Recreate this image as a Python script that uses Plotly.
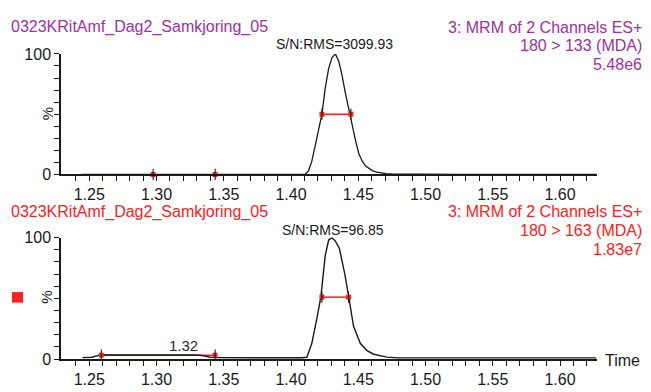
import plotly.graph_objects as go

# ---------------- data ----------------
top_t = [1.245, 1.30, 1.35, 1.40, 1.4105, 1.413, 1.4155, 1.418, 1.4205, 1.423, 1.4255,
         1.428, 1.4305, 1.433, 1.4355, 1.438, 1.4405, 1.443, 1.4455, 1.448, 1.4505,
         1.453, 1.4555, 1.458, 1.4605, 1.463, 1.4655, 1.468, 1.4705, 1.475, 1.48,
         1.49, 1.50, 1.51, 1.52, 1.55, 1.60, 1.627]
top_v = [0, 0, 0, 0, 0, 3, 11, 24, 38, 50, 72, 88, 97, 100, 94, 82, 67, 53, 40, 28, 17,
         11, 7, 4.8, 3.2, 2.2, 1.5, 1.0, 0.7, 0.5, 0.4, 0.4, 0.3, 0.3, 0.1, 0, 0, 0]

bot_t = [1.245, 1.252, 1.258, 1.27, 1.29, 1.31, 1.32, 1.33, 1.336, 1.340, 1.345, 1.37,
         1.40, 1.408, 1.4118, 1.4155, 1.4193, 1.4222, 1.4254, 1.428, 1.4304, 1.433,
         1.436, 1.440, 1.4428, 1.4465, 1.4515, 1.4565, 1.4615, 1.4665, 1.4713, 1.48,
         1.50, 1.53, 1.55, 1.57, 1.575, 1.58, 1.60, 1.61, 1.627]
bot_v = [1.2, 1.5, 3.4, 3.4, 3.5, 3.6, 3.7, 3.5, 2.5, 1.5, 1.2, 1.0, 1.0, 1.1, 1.5, 13,
         34, 51, 85, 98, 100, 97, 91, 70, 52, 27, 13, 7, 4, 2.5, 1.6, 1.0, 1.0, 0.9,
         0.8, 0.8, 1.3, 0.8, 0.8, 1.0, 1.0]

top_halfwidth_t = [1.423, 1.4445]
top_halfwidth_v = [50, 50]
top_limits_t = [1.2975, 1.3436]
top_limits_v = [0, 0]

bot_halfwidth_t = [1.423, 1.4428]
bot_halfwidth_v = [51, 51]
bot_small_t = [1.259, 1.3436]
bot_small_v = [3.2, 3.2]

small_peak_rt = 1.3198
small_peak_label = "1.32"

x_ticks = [round(1.24 + 0.01 * i, 2) for i in range(39)]
x_labels = [f"{v:.2f}" if abs(round(v * 100) % 5) == 0 else "" for v in x_ticks]
y_ticks = [0, 10, 20, 30, 40, 50, 60, 70, 80, 90, 100]
y_labels = ["0", "", "", "", "", "", "", "", "", "", "100"]

top_title = "0323KRitAmf_Dag2_Samkjoring_05"
top_info = ["3: MRM of 2 Channels ES+", "180 > 133 (MDA)", "5.48e6"]
top_sn = "S/N:RMS=3099.93"
bot_title = "0323KRitAmf_Dag2_Samkjoring_05"
bot_info = ["3: MRM of 2 Channels ES+", "180 > 163 (MDA)", "1.83e7"]
bot_sn = "S/N:RMS=96.85"

# ---------------- styles ----------------
W, H = 651, 392
PURPLE = "#A030A0"
RED = "#FF2020"
INK = "#1a1a1a"
FONT = "Liberation Sans, Arial, sans-serif"

def px(x):
    return x / W

def py(y):
    return 1 - y / H

x_dom = [px(61), px(597)]
top_dom = [py(174), py(48)]
bot_dom = [py(367), py(240)]
x_range = [1.229, 1.6275]

fig = go.Figure()

def add_markers(xa, ya, tt, vv):
    fig.add_trace(go.Scatter(x=tt, y=vv, xaxis=xa, yaxis=ya, mode="markers",
                             marker=dict(symbol="square", color=RED, size=5),
                             cliponaxis=False, showlegend=False, hoverinfo="skip"))
    fig.add_trace(go.Scatter(x=tt, y=vv, xaxis=xa, yaxis=ya, mode="markers",
                             marker=dict(symbol="line-ns", size=8,
                                         line=dict(color=INK, width=1.1)),
                             cliponaxis=False, showlegend=False, hoverinfo="skip"))

# top panel
fig.add_trace(go.Scatter(x=top_t, y=top_v, xaxis="x", yaxis="y", mode="lines",
                         line=dict(color=INK, width=1.3), showlegend=False))
fig.add_trace(go.Scatter(x=top_halfwidth_t, y=top_halfwidth_v, xaxis="x", yaxis="y",
                         mode="lines", line=dict(color=RED, width=1.5),
                         showlegend=False, hoverinfo="skip"))
add_markers("x", "y", top_halfwidth_t, top_halfwidth_v)
add_markers("x", "y", top_limits_t, top_limits_v)

# bottom panel
fig.add_trace(go.Scatter(x=bot_small_t, y=bot_small_v, xaxis="x2", yaxis="y2",
                         mode="lines", line=dict(color=RED, width=1.5),
                         showlegend=False, hoverinfo="skip"))
fig.add_trace(go.Scatter(x=bot_t, y=bot_v, xaxis="x2", yaxis="y2", mode="lines",
                         line=dict(color=INK, width=1.4), showlegend=False))
fig.add_trace(go.Scatter(x=bot_halfwidth_t, y=bot_halfwidth_v, xaxis="x2", yaxis="y2",
                         mode="lines", line=dict(color=RED, width=1.5),
                         showlegend=False, hoverinfo="skip"))
add_markers("x2", "y2", bot_halfwidth_t, bot_halfwidth_v)
add_markers("x2", "y2", bot_small_t, bot_small_v)

axis_common = dict(showline=True, linecolor=INK, linewidth=1.5, ticks="outside",
                   ticklen=5, tickwidth=1.2, tickcolor=INK, showgrid=False,
                   zeroline=False, tickfont=dict(family=FONT, size=16, color=INK))

fig.update_layout(
    width=W, height=H,
    margin=dict(l=0, r=0, t=0, b=0),
    paper_bgcolor="white", plot_bgcolor="white",
    showlegend=False,
    xaxis=dict(domain=x_dom, range=x_range, anchor="y", tickmode="array",
               tickvals=x_ticks, ticktext=x_labels, **axis_common),
    yaxis=dict(domain=top_dom, range=[0, 100], anchor="x", tickmode="array",
               tickvals=y_ticks, ticktext=y_labels, **axis_common),
    xaxis2=dict(domain=x_dom, range=x_range, anchor="y2", tickmode="array",
                tickvals=x_ticks, ticktext=x_labels, **axis_common),
    yaxis2=dict(domain=bot_dom, range=[0, 100], anchor="x2", tickmode="array",
                tickvals=y_ticks, ticktext=y_labels, **axis_common),
)

ann = []
def text(x, y, s, color, size=15, xanchor="left", angle=0):
    ann.append(dict(xref="paper", yref="paper", x=px(x), y=py(y), text=s,
                    showarrow=False, xanchor=xanchor, yanchor="middle",
                    textangle=angle,
                    font=dict(family=FONT, size=size, color=color)))

# top texts
text(9, 20, top_title, PURPLE, 16)
for i, s in enumerate(top_info):
    text(644, 20 + i * 19.5, s, PURPLE, 16, xanchor="right")
text(335, 38, top_sn, INK, 14, xanchor="center")
text(47, 111, "%", INK, 15, xanchor="center", angle=-90)

# bottom texts
text(9, 213, bot_title, RED, 16)
for i, s in enumerate(bot_info):
    text(644, 213 + i * 19.5, s, RED, 16, xanchor="right")
text(333, 232, bot_sn, INK, 14, xanchor="center")
text(47, 303, "%", INK, 15, xanchor="center", angle=-90)
text(603, 368, "Time", INK, 16)

ann.append(dict(xref="x2", yref="y2", x=small_peak_rt, y=11, text=small_peak_label,
                showarrow=False, xanchor="center", yanchor="middle",
                font=dict(family=FONT, size=15, color="#2a2a3a")))

fig.update_layout(annotations=ann)

fig.add_shape(type="rect", xref="paper", yref="paper",
              x0=px(12), x1=px(23), y0=py(308), y1=py(297),
              fillcolor=RED, line=dict(width=0))

fig.write_html("out.html")
